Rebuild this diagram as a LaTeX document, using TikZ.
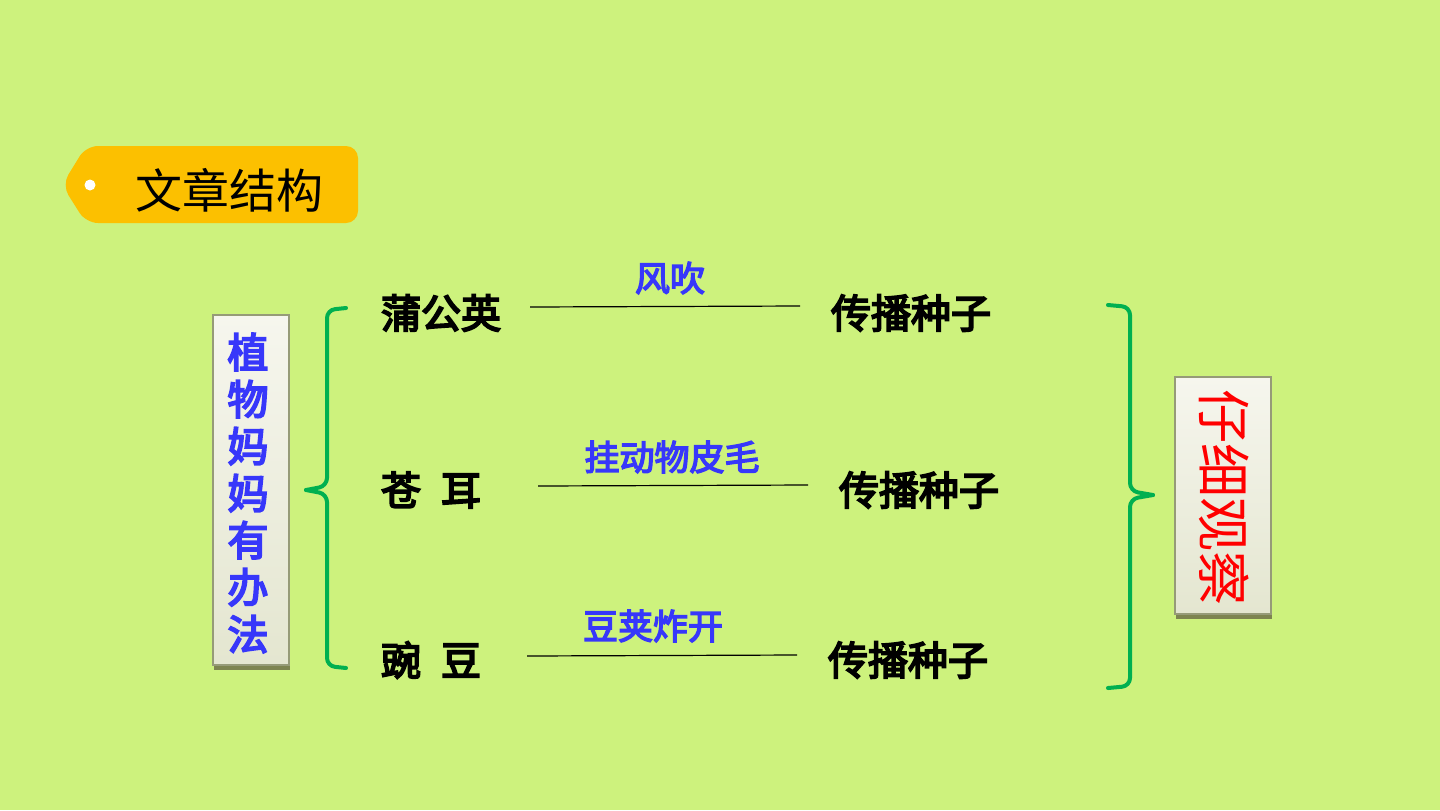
\documentclass[tikz,border=0pt]{standalone}
\usepackage{fontspec}
\newfontfamily\cjk{Noto Sans CJK SC}
\newfontfamily\cjkb{Noto Sans CJK SC}[FakeBold=4.5]
\newfontfamily\cjkm{Noto Sans CJK SC}[FakeBold=4]
\usetikzlibrary{shadings}
\definecolor{bg}{RGB}{205,242,125}
\definecolor{tag}{RGB}{252,192,0}
\definecolor{brgreen}{RGB}{0,176,80}
\definecolor{lblue}{RGB}{55,55,250}
\definecolor{boxtop}{RGB}{246,246,238}
\definecolor{boxbot}{RGB}{228,230,208}
\definecolor{boxedge}{RGB}{150,155,120}
\definecolor{boxshadow}{RGB}{125,132,80}
\tikzset{
  item/.style={font=\cjkb\fontsize{20pt}{22pt}\selectfont, text=black, inner sep=0pt},
  how/.style={font=\cjkm\fontsize{17.5pt}{19pt}\selectfont, text=lblue, inner sep=0pt},
  link/.style={draw=black, line width=0.6pt},
  brace/.style={draw=brgreen, line width=2pt, rounded corners=4pt, line cap=round, line join=round},
  vbox/.style={draw=boxedge, line width=0.6pt, top color=boxtop, bottom color=boxbot}
}
\begin{document}
\begin{tikzpicture}[x=0.5pt,y=-0.5pt]
\useasboundingbox (0,0) rectangle (1440,810);
\fill[bg] (0,0) rectangle (1440,810);

% title tag
\fill[tag, rounded corners=6pt] (86,146) -- (358,146) -- (358,223) -- (86,223) -- (62,185) -- cycle;
\fill[white] (90,185) circle (5.5);
\node[font=\cjk\fontsize{23.5pt}{25pt}\selectfont, inner sep=0pt] (title) at (229,190) {文章结构};

% left box
\fill[boxshadow] (214,318) rectangle (290,670);
\path[vbox] (213,315) rectangle (289,665);
\node[font=\cjkb\fontsize{20.5pt}{24pt}\selectfont, text=lblue, align=center, inner sep=0pt] (left) at (248,493)
  {植\\[-0.5pt]物\\[-0.5pt]妈\\[-0.5pt]妈\\[-0.5pt]有\\[-0.5pt]办\\[-0.5pt]法};

% right box
\fill[boxshadow] (1176,380) rectangle (1272,619);
\path[vbox] (1175,377) rectangle (1271,614);
\node[font=\cjk\fontsize{27pt}{28pt}\selectfont, text=red, rotate=-90, inner sep=0pt] (right) at (1224,497) {仔细观察};

% left brace
\draw[brace] (346,308) -- (327,310) -- (327,486) -- (306,490);
\draw[brace] (306,490) -- (327,494) -- (327,666) -- (346,668);
% right brace
\draw[brace] (1108,305) -- (1130,307) -- (1130,491) -- (1153,495);
\draw[brace] (1153,495) -- (1130,499) -- (1130,686) -- (1108,688);

% rows
\node[item] (p1) at (441,313) {蒲公英};
\node[item] (p2) at (431,490) {苍\hspace{0.5em}耳};
\node[item] (p3) at (431,660) {豌\hspace{0.5em}豆};
\node[item] (s1) at (911,313) {传播种子};
\node[item] (s2) at (919,490) {传播种子};
\node[item] (s3) at (908,660) {传播种子};

\node[how] (h1) at (670,278) {风吹};
\node[how] (h2) at (672,457) {挂动物皮毛};
\node[how] (h3) at (653,626) {豆荚炸开};

\coordinate (a1) at (530,307); \coordinate (b1) at (800,306);
\coordinate (a2) at (538,486); \coordinate (b2) at (808,485);
\coordinate (a3) at (527,656); \coordinate (b3) at (797,655);
\draw[link] (a1) -- (b1);
\draw[link] (a2) -- (b2);
\draw[link] (a3) -- (b3);
\end{tikzpicture}
\end{document}
